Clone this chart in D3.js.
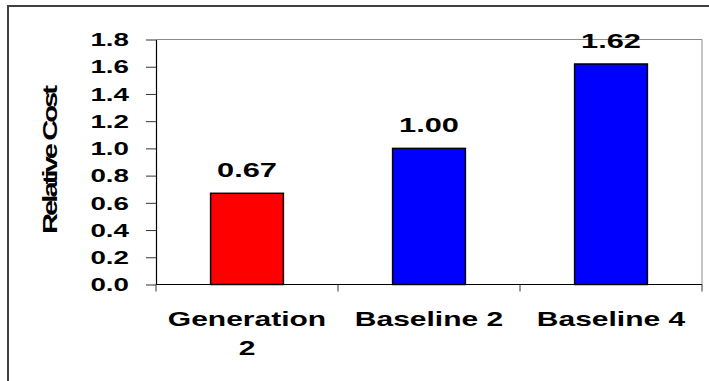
<!DOCTYPE html>
<html>
<head>
<meta charset="utf-8">
<script src="https://cdn.jsdelivr.net/npm/d3@7"></script>
<style>
  html, body { margin: 0; padding: 0; background: #fff; }
  svg { display: block; }
  text { font-family: Arial, "Liberation Sans", sans-serif; font-weight: bold; fill: #000; }
</style>
</head>
<body>
<svg id="chart" width="709" height="381"></svg>
<script>
// Chart data
const categories = ["Generation 2", "Baseline 2", "Baseline 4"];
const categoryLines = [["Generation", "2"], ["Baseline 2"], ["Baseline 4"]];
const relativeCost = [0.67, 1.00, 1.62];
const barColors = ["#ff0000", "#0000ff", "#0000ff"];
const yTicks = [0, 0.2, 0.4, 0.6, 0.8, 1.0, 1.2, 1.4, 1.6, 1.8];
const yTitle = "Relative Cost";

const svg = d3.select("#chart");
const W = 709, H = 381;
const plot = { left: 156, top: 39.5, right: 702, bottom: 284.5 };
const stretch = 1.5; // wide lettering

// Outer chart frame (runs off the right and bottom edges)
svg.append("rect")
  .attr("x", 8).attr("y", 6)
  .attr("width", W + 10).attr("height", H + 10)
  .attr("fill", "#fff")
  .attr("stroke", "#404040").attr("stroke-width", 2);

const x = d3.scaleBand()
  .domain(categories)
  .range([plot.left, plot.right])
  .paddingInner(0.6)
  .paddingOuter(0.3);

const y = d3.scaleLinear()
  .domain([0, 1.8])
  .range([plot.bottom, plot.top]);

// Plot area border (top and right)
svg.append("path")
  .attr("d", `M${plot.left},${plot.top}H${plot.right}V${plot.bottom}`)
  .attr("fill", "none")
  .attr("stroke", "#8c8c8c").attr("stroke-width", 1);

// Bars
svg.append("g").selectAll("rect")
  .data(categories)
  .join("rect")
  .attr("x", d => x(d))
  .attr("y", (d, i) => y(relativeCost[i]))
  .attr("width", x.bandwidth())
  .attr("height", (d, i) => y(0) - y(relativeCost[i]))
  .attr("fill", (d, i) => barColors[i])
  .attr("stroke", "#000").attr("stroke-width", 1.5);

// Y axis
const yAxis = svg.append("g")
  .attr("transform", `translate(${plot.left},0)`)
  .call(d3.axisLeft(y).tickValues(yTicks).tickSize(10).tickSizeOuter(0).tickFormat(""));
yAxis.select(".domain").attr("stroke", "#000").attr("stroke-width", 1.2);
yAxis.selectAll(".tick line").attr("stroke", "#333");

// Y tick labels
const fmt = d3.format(".1f");
svg.append("g").selectAll("g")
  .data(yTicks)
  .join("g")
  .attr("transform", d => `translate(129,${y(d)})`)
  .append("text")
  .attr("transform", `scale(${stretch},1)`)
  .attr("text-anchor", "end")
  .attr("dy", "0.36em")
  .attr("font-size", 18.5)
  .text(d => fmt(d));

// X axis with ticks at category boundaries
const boundaries = d3.range(categories.length + 1)
  .map(i => plot.left + x.step() * i);
svg.append("line")
  .attr("x1", plot.left).attr("x2", plot.right)
  .attr("y1", plot.bottom).attr("y2", plot.bottom)
  .attr("stroke", "#000").attr("stroke-width", 1.2);
svg.append("g").selectAll("line")
  .data(boundaries)
  .join("line")
  .attr("x1", d => d).attr("x2", d => d)
  .attr("y1", plot.bottom).attr("y2", plot.bottom + 7)
  .attr("stroke", "#333");

// Category labels
const catG = svg.append("g").selectAll("g")
  .data(categories)
  .join("g")
  .attr("transform", d => `translate(${x(d) + x.bandwidth() / 2},326)`);
catG.each(function (d, i) {
  const g = d3.select(this);
  categoryLines[i].forEach((line, j) => {
    g.append("text")
      .attr("transform", `translate(0,${j * 29}) scale(${stretch},1)`)
      .attr("text-anchor", "middle")
      .attr("font-size", 20)
      .text(line);
  });
});

// Value labels above bars
svg.append("g").selectAll("g")
  .data(categories)
  .join("g")
  .attr("transform", (d, i) => `translate(${x(d) + x.bandwidth() / 2},${y(relativeCost[i]) - 16})`)
  .append("text")
  .attr("transform", `scale(${stretch},1)`)
  .attr("text-anchor", "middle")
  .attr("font-size", 20.5)
  .text((d, i) => d3.format(".2f")(relativeCost[i]));

// Y axis title
svg.append("g")
  .attr("transform", "translate(57,161) rotate(-90)")
  .append("text")
  .attr("transform", `scale(${stretch},1)`)
  .attr("text-anchor", "middle")
  .attr("font-size", 19.5)
  .attr("letter-spacing", -2)
  .text(yTitle);
</script>
</body>
</html>
